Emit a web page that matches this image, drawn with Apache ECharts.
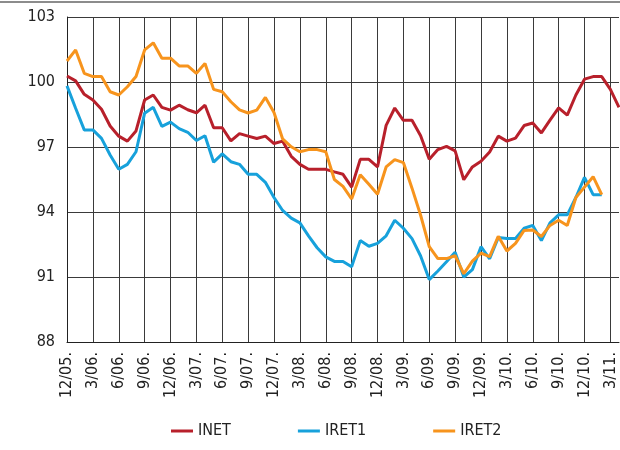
<!DOCTYPE html>
<html>
<head>
<meta charset="utf-8">
<script src="https://cdn.jsdelivr.net/npm/echarts@6/dist/echarts.min.js"></script>
<style>
html,body{margin:0;padding:0;background:#fff;}
#chart{width:620px;height:450px;}
</style>
</head>
<body>
<div id="chart"></div>
<script>
var categories = [
"12/05.",
"1/06.","2/06.","3/06.","4/06.","5/06.","6/06.","7/06.","8/06.","9/06.","10/06.","11/06.","12/06.",
"1/07.","2/07.","3/07.","4/07.","5/07.","6/07.","7/07.","8/07.","9/07.","10/07.","11/07.","12/07.",
"1/08.","2/08.","3/08.","4/08.","5/08.","6/08.","7/08.","8/08.","9/08.","10/08.","11/08.","12/08.",
"1/09.","2/09.","3/09.","4/09.","5/09.","6/09.","7/09.","8/09.","9/09.","10/09.","11/09.","12/09.",
"1/10.","2/10.","3/10.","4/10.","5/10.","6/10.","7/10.","8/10.","9/10.","10/10.","11/10.","12/10.",
"1/11.","2/11.","3/11.","4/11."
];
var seriesNames = ["INET", "IRET1", "IRET2"];
var inet = [
100.28,100.05,99.43,99.17,98.74,97.97,97.5,97.27,97.74,99.17,99.4,98.83,98.7,
98.93,98.72,98.58,98.93,97.89,97.89,97.28,97.62,97.5,97.39,97.5,97.16,
97.27,96.57,96.2,95.97,95.97,95.97,95.85,95.74,95.15,96.43,96.43,96.08,
98.0,98.8,98.23,98.23,97.52,96.43,96.88,97.03,96.82,95.49,96.08,96.34,
96.77,97.5,97.27,97.41,97.99,98.11,97.65,98.24,98.81,98.47,99.4,100.13,
100.25,100.25,99.66,98.83
];
var iret1 = [
99.82,98.79,97.79,97.79,97.4,96.63,95.97,96.2,96.78,98.56,98.83,97.95,98.15,
97.85,97.68,97.3,97.52,96.3,96.68,96.32,96.2,95.74,95.74,95.37,94.67,
94.07,93.72,93.5,92.9,92.35,91.93,91.72,91.72,91.47,92.68,92.42,92.55,
92.9,93.62,93.25,92.77,91.97,90.88,91.28,91.7,92.14,91.0,91.34,92.4,
91.84,92.82,92.78,92.78,93.25,93.38,92.68,93.5,93.87,93.87,94.67,95.6,
94.8,94.8
];
var iret2 = [
100.97,101.48,100.4,100.25,100.25,99.55,99.4,99.78,100.25,101.48,101.81,101.1,101.1,
100.74,100.74,100.4,100.86,99.66,99.55,99.09,98.71,98.57,98.7,99.29,98.59,
97.37,97.01,96.78,96.88,96.88,96.78,95.5,95.18,94.6,95.72,95.28,94.82,
96.08,96.42,96.28,95.1,93.85,92.4,91.85,91.85,91.98,91.15,91.73,92.1,
91.94,92.88,92.2,92.55,93.15,93.17,92.87,93.38,93.62,93.38,94.67,95.15,
95.63,94.8
];
var yMin = 88, yMax = 103, yStep = 3;

var FONT = "'Liberation Sans Narrow', 'DejaVu Sans Condensed', 'Arial Narrow', sans-serif";
var colors = ["#B8202B", "#17A1DB", "#F7941D"];

var chart = echarts.init(document.getElementById('chart'), null, {renderer: 'canvas'});
var option = {
  animation: false,
  backgroundColor: '#fff',
  color: colors,
  textStyle: {fontFamily: FONT},
  graphic: [{
    type: 'line',
    shape: {x1: 0, y1: 2, x2: 620, y2: 2},
    style: {stroke: '#8c8c8c', lineWidth: 2}
  }],
  grid: {left: 67, right: 1, top: 17, bottom: 108, containLabel: false},
  legend: {
    left: 166, top: 418,
    icon: 'rect', itemWidth: 22, itemHeight: 3, itemGap: 67,
    textStyle: {fontFamily: FONT, fontSize: 16, color: '#222'},
    data: seriesNames
  },
  xAxis: {
    type: 'category',
    data: categories,
    boundaryGap: false,
    axisLine: {lineStyle: {color: '#222', width: 1}},
    axisTick: {show: false},
    axisLabel: {interval: 2, rotate: 90, margin: 10, fontSize: 16, color: '#222', fontFamily: FONT},
    splitLine: {show: true, interval: 2, lineStyle: {color: '#3a3a3a', width: 1}}
  },
  yAxis: {
    type: 'value',
    min: yMin, max: yMax, interval: yStep,
    axisLine: {show: true, lineStyle: {color: '#222', width: 1}},
    axisTick: {show: false},
    axisLabel: {margin: 12, fontSize: 16, color: '#222', fontFamily: FONT},
    splitLine: {show: true, lineStyle: {color: '#3a3a3a', width: 1}}
  },
  series: [
    {name: seriesNames[0], type: 'line', data: inet, symbol: 'none', lineStyle: {width: 3, color: colors[0]}},
    {name: seriesNames[1], type: 'line', data: iret1, symbol: 'none', lineStyle: {width: 3, color: colors[1]}},
    {name: seriesNames[2], type: 'line', data: iret2, symbol: 'none', lineStyle: {width: 3, color: colors[2]}}
  ]
};
chart.setOption(option);
</script>
</body>
</html>
